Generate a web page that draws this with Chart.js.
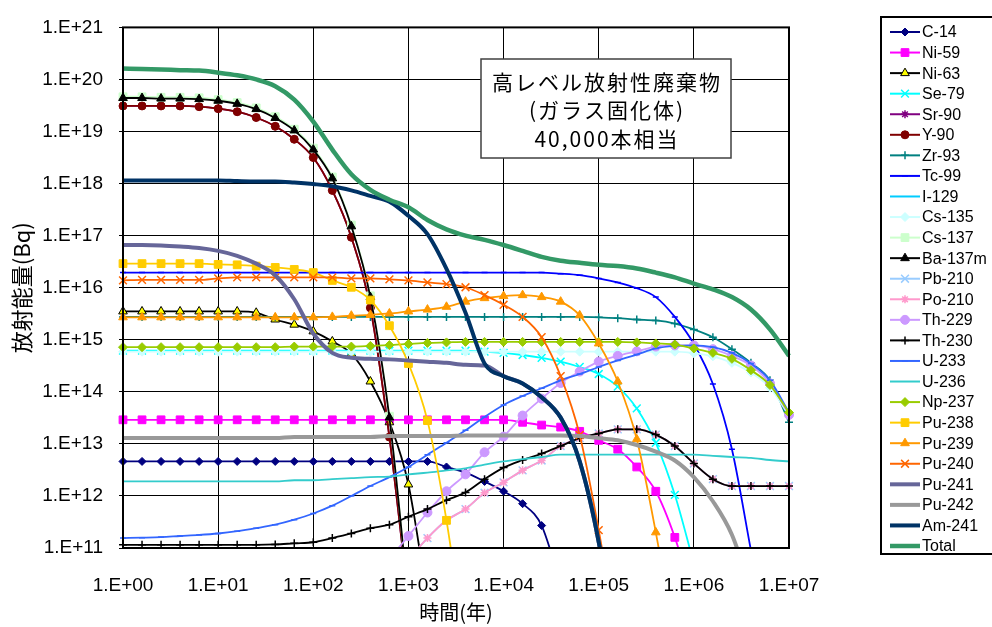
<!DOCTYPE html>
<html>
<head>
<meta charset="utf-8">
<script src="https://cdn.jsdelivr.net/npm/chart.js@4/dist/chart.umd.min.js"></script>
<style>
  html, body { margin: 0; padding: 0; background: #fff; }
  canvas { display: block; }
</style>
</head>
<body>
<canvas id="chart" width="992" height="627"></canvas>
<script>
// time grid (years), 5 points per decade
const years = [
  1, 1.585, 2.512, 3.981, 6.31,
  10, 15.85, 25.12, 39.81, 63.1,
  100, 158.5, 251.2, 398.1, 631,
  1000, 1585, 2512, 3981, 6310,
  1e4, 15850, 25120, 39810, 63100,
  1e5, 158500, 251200, 398100, 631000,
  1e6, 1585000, 2512000, 3981000, 6310000,
  1e7
];

const xTicks = [1, 10, 100, 1e3, 1e4, 1e5, 1e6, 1e7];
const xTickLabels = ['1.E+00', '1.E+01', '1.E+02', '1.E+03', '1.E+04', '1.E+05', '1.E+06', '1.E+07'];
const yTicks = [1e11, 1e12, 1e13, 1e14, 1e15, 1e16, 1e17, 1e18, 1e19, 1e20, 1e21];
const yTickLabels = ['1.E+11', '1.E+12', '1.E+13', '1.E+14', '1.E+15', '1.E+16', '1.E+17', '1.E+18', '1.E+19', '1.E+20', '1.E+21'];

const noteLines = ['高レベル放射性廃棄物', '(ガラス固化体)', '40,000本相当'];

const names = ['C-14', 'Ni-59', 'Ni-63', 'Se-79', 'Sr-90', 'Y-90', 'Zr-93', 'Tc-99', 'I-129',
  'Cs-135', 'Cs-137', 'Ba-137m', 'Pb-210', 'Po-210', 'Th-229', 'Th-230', 'U-233', 'U-236',
  'Np-237', 'Pu-238', 'Pu-239', 'Pu-240', 'Pu-241', 'Pu-242', 'Am-241', 'Total'];

// activity (Bq), one row per decade
const c14 = [
  4.6e12, 4.6e12, 4.6e12, 4.6e12, 4.6e12,
  4.6e12, 4.6e12, 4.6e12, 4.6e12, 4.6e12,
  4.6e12, 4.6e12, 4.6e12, 4.6e12, 4.6e12,
  4.6e12, 4.6e12, 3.6e12, 2.8e12, 1.9e12,
  1.23e12, 7.1e11, 2.7e11, 2e10, null,
  null, null, null, null, null,
  null, null, null, null, null,
  null
];
const ni59 = [
  2.9e13, 2.9e13, 2.9e13, 2.9e13, 2.9e13,
  2.9e13, 2.9e13, 2.9e13, 2.9e13, 2.9e13,
  2.9e13, 2.9e13, 2.9e13, 2.9e13, 2.9e13,
  2.9e13, 2.9e13, 2.9e13, 2.9e13, 2.9e13,
  2.9e13, 2.6e13, 2.3e13, 2.1e13, 1.74e13,
  1.17e13, 7.9e12, 3.6e12, 1.23e12, 1.6e11,
  1e10, null, null, null, null,
  null
];
const ni63 = [
  3.5e15, 3.5e15, 3.5e15, 3.5e15, 3.5e15,
  3.5e15, 3.5e15, 3.3e15, 2.45e15, 1.95e15,
  1.45e15, 9.3e14, 5.4e14, 1.58e14, 2.6e13,
  1.66e12, 1e10, null, null, null,
  null, null, null, null, null,
  null, null, null, null, null,
  null, null, null, null, null,
  null
];
const se79 = [
  6.2e14, 6.2e14, 6.2e14, 6.2e14, 6.2e14,
  6.2e14, 6.2e14, 6.2e14, 6.2e14, 6.2e14,
  6.2e14, 6.2e14, 6.2e14, 6.2e14, 6.2e14,
  6.2e14, 6.2e14, 6.2e14, 6.2e14, 5.9e14,
  5.6e14, 5.1e14, 4.5e14, 3.8e14, 3.0e14,
  2.2e14, 1.26e14, 4.8e13, 1.05e13, 1.05e12,
  5e10, null, null, null, null,
  null
];
const sr90 = [
  3.1e19, 3.1e19, 3.1e19, 3.1e19, 3.0e19,
  2.75e19, 2.4e19, 1.86e19, 1.26e19, 7.1e18,
  3.16e18, 7.4e17, 9.3e16, 4.1e15, 1.35e13,
  1e10, null, null, null, null,
  null, null, null, null, null,
  null, null, null, null, null,
  null, null, null, null, null,
  null
];
const y90 = [
  3.1e19, 3.1e19, 3.1e19, 3.1e19, 3.0e19,
  2.75e19, 2.4e19, 1.86e19, 1.26e19, 7.1e18,
  3.16e18, 7.4e17, 9.3e16, 4.1e15, 1.35e13,
  1e10, null, null, null, null,
  null, null, null, null, null,
  null, null, null, null, null,
  null, null, null, null, null,
  null
];
const zr93 = [
  2.75e15, 2.75e15, 2.75e15, 2.75e15, 2.75e15,
  2.75e15, 2.75e15, 2.75e15, 2.75e15, 2.75e15,
  2.75e15, 2.75e15, 2.75e15, 2.75e15, 2.75e15,
  2.75e15, 2.75e15, 2.75e15, 2.75e15, 2.75e15,
  2.75e15, 2.75e15, 2.75e15, 2.75e15, 2.75e15,
  2.7e15, 2.6e15, 2.45e15, 2.35e15, 2.05e15,
  1.58e15, 1.12e15, 6.6e14, 3.6e14, 1.66e14,
  2.6e13
];
const tc99 = [
  1.95e16, 1.95e16, 1.95e16, 1.95e16, 1.95e16,
  1.95e16, 1.95e16, 1.95e16, 1.95e16, 1.95e16,
  1.95e16, 1.95e16, 1.95e16, 1.95e16, 1.95e16,
  1.95e16, 1.95e16, 1.95e16, 1.95e16, 1.95e16,
  1.95e16, 1.95e16, 1.95e16, 1.86e16, 1.74e16,
  1.51e16, 1.26e16, 9.8e15, 6.6e15, 2.75e15,
  8.3e14, 1.41e14, 7.9e12, 9e10, null,
  null
];
const i129 = []; // stays below 1.E+11, nothing visible
const cs135 = [
  5.9e14, 5.9e14, 5.9e14, 5.9e14, 5.9e14,
  5.9e14, 5.9e14, 5.9e14, 5.9e14, 5.9e14,
  5.9e14, 5.9e14, 5.9e14, 5.9e14, 5.9e14,
  5.9e14, 5.9e14, 5.9e14, 5.9e14, 5.9e14,
  5.9e14, 5.9e14, 5.9e14, 5.9e14, 5.9e14,
  5.9e14, 5.9e14, 5.9e14, 5.9e14, 5.9e14,
  5.5e14, 4.8e14, 3.6e14, 2.34e14, 1.2e14,
  3.5e13
];
const cs137 = [
  4.65e19, 4.65e19, 4.55e19, 4.55e19, 4.45e19,
  4.1e19, 3.6e19, 2.85e19, 1.93e19, 1.11e19,
  4.8e18, 1.34e18, 1.6e17, 7.0e15, 3.4e13,
  1e10, null, null, null, null,
  null, null, null, null, null,
  null, null, null, null, null,
  null, null, null, null, null,
  null
];
const ba137m = [
  4.4e19, 4.4e19, 4.3e19, 4.3e19, 4.2e19,
  3.9e19, 3.4e19, 2.7e19, 1.82e19, 1.05e19,
  4.5e18, 1.26e18, 1.51e17, 6.6e15, 3.2e13,
  1e10, null, null, null, null,
  null, null, null, null, null,
  null, null, null, null, null,
  null, null, null, null, null,
  null
];
const pb210 = [
  null, null, null, null, null,
  null, null, null, null, null,
  null, null, null, null, null,
  6e10, 1.55e11, 3.4e11, 5.6e11, 1.15e12,
  1.82e12, 3.1e12, 4.8e12, 9.1e12, 1.29e13,
  1.58e13, 1.9e13, 1.9e13, 1.51e13, 9.1e12,
  4.2e12, 2.1e12, 1.55e12, 1.55e12, 1.55e12,
  1.55e12
];
const po210 = [
  null, null, null, null, null,
  null, null, null, null, null,
  null, null, null, null, null,
  6e10, 1.55e11, 3.4e11, 5.6e11, 1.15e12,
  1.82e12, 3.1e12, 4.8e12, 9.1e12, 1.29e13,
  1.58e13, 1.9e13, 1.9e13, 1.51e13, 9.1e12,
  4.2e12, 2.1e12, 1.55e12, 1.55e12, 1.55e12,
  1.55e12
];
const th229 = [
  null, null, null, null, null,
  null, null, null, null, null,
  null, null, null, null, 6.2e10,
  1.7e11, 4.8e11, 1.23e12, 2.6e12, 6.9e12,
  1.38e13, 3.5e13, 7.4e13, 1.48e14, 2.45e14,
  3.8e14, 4.9e14, 6.0e14, 7.4e14, 7.8e14,
  7.8e14, 6.6e14, 4.9e14, 3.2e14, 1.45e14,
  3.6e13
];
const th230 = [
  1.15e11, 1.15e11, 1.15e11, 1.15e11, 1.15e11,
  1.15e11, 1.15e11, 1.15e11, 1.17e11, 1.23e11,
  1.29e11, 1.55e11, 1.9e11, 2.4e11, 2.8e11,
  4.0e11, 5.6e11, 8.3e11, 1.17e12, 2.1e12,
  3.5e12, 4.9e12, 6.5e12, 9.1e12, 1.29e13,
  1.58e13, 1.9e13, 1.9e13, 1.51e13, 9.1e12,
  4.2e12, 2.1e12, 1.55e12, 1.55e12, 1.55e12,
  1.55e12
];
const u233 = [
  1.55e11, 1.58e11, 1.62e11, 1.7e11, 1.78e11,
  1.9e11, 2.1e11, 2.4e11, 2.8e11, 3.5e11,
  4.6e11, 6.5e11, 1.0e12, 1.55e12, 2.3e12,
  3.6e12, 6.2e12, 1.05e13, 1.82e13, 3.3e13,
  5.6e13, 8.3e13, 1.17e14, 1.66e14, 2.2e14,
  3.0e14, 4.0e14, 5.2e14, 6.8e14, 7.6e14,
  7.8e14, 7.2e14, 5.6e14, 3.5e14, 1.66e14,
  4.0e13
];
const u236 = [
  1.9e12, 1.9e12, 1.9e12, 1.9e12, 1.9e12,
  1.9e12, 1.9e12, 1.9e12, 1.9e12, 2.0e12,
  2.0e12, 2.1e12, 2.2e12, 2.3e12, 2.35e12,
  2.6e12, 2.8e12, 3.1e12, 3.4e12, 4.0e12,
  4.6e12, 5.1e12, 5.6e12, 6.2e12, 6.2e12,
  6.2e12, 6.2e12, 6.2e12, 6.2e12, 6.2e12,
  6.2e12, 5.9e12, 5.6e12, 5.4e12, 4.9e12,
  4.6e12
];
const np237 = [
  7.2e14, 7.2e14, 7.2e14, 7.2e14, 7.2e14,
  7.2e14, 7.2e14, 7.2e14, 7.2e14, 7.4e14,
  7.4e14, 7.4e14, 7.4e14, 7.6e14, 7.9e14,
  8.3e14, 8.7e14, 8.9e14, 9.1e14, 9.1e14,
  9.1e14, 9.1e14, 9.1e14, 9.1e14, 9.1e14,
  9.1e14, 9.1e14, 8.9e14, 8.5e14, 8.1e14,
  6.8e14, 5.6e14, 4.3e14, 2.6e14, 1.35e14,
  4.0e13
];
const pu238 = [
  2.9e16, 2.9e16, 2.9e16, 2.9e16, 2.9e16,
  2.8e16, 2.75e16, 2.6e16, 2.45e16, 2.24e16,
  1.95e16, 1.38e16, 1.02e16, 5.8e15, 1.86e15,
  3.5e14, 2.8e13, 3.4e11, 1e9, null,
  null, null, null, null, null,
  null, null, null, null, null,
  null, null, null, null, null,
  null
];
const pu239 = [
  2.7e15, 2.7e15, 2.7e15, 2.7e15, 2.7e15,
  2.7e15, 2.7e15, 2.7e15, 2.7e15, 2.7e15,
  2.7e15, 2.75e15, 2.9e15, 3.0e15, 3.2e15,
  3.5e15, 3.8e15, 4.3e15, 5.4e15, 6.3e15,
  6.9e15, 7.2e15, 6.6e15, 5.4e15, 2.95e15,
  8.5e14, 1.58e14, 1.23e13, 2.0e11, 1.6e9,
  null, null, null, null, null,
  null
];
const pu240 = [
  1.38e16, 1.41e16, 1.41e16, 1.41e16, 1.41e16,
  1.51e16, 1.58e16, 1.58e16, 1.58e16, 1.58e16,
  1.58e16, 1.58e16, 1.51e16, 1.51e16, 1.45e16,
  1.38e16, 1.26e16, 1.17e16, 1.02e16, 7.2e15,
  4.7e15, 2.75e15, 1.12e15, 2.0e14, 1.48e13,
  2.2e11, 1.6e9, null, null, null,
  null, null, null, null, null,
  null
];
const pu241 = [
  6.6e16, 6.6e16, 6.5e16, 6.2e16, 5.8e16,
  5.1e16, 4.1e16, 2.9e16, 1.74e16, 6.0e15,
  1.32e15, 5.6e14, 4.5e14, 4.3e14, 4.2e14,
  4.0e14, 3.8e14, 3.6e14, 3.3e14, 3.2e14,
  2.0e14, 1.45e14, 7.9e13, 3.2e13, 4.6e12,
  1.3e11, 7e8, null, null, null,
  null, null, null, null, null,
  null
];
const pu242 = [
  1.29e13, 1.29e13, 1.29e13, 1.29e13, 1.29e13,
  1.29e13, 1.29e13, 1.29e13, 1.29e13, 1.35e13,
  1.35e13, 1.35e13, 1.35e13, 1.35e13, 1.41e13,
  1.41e13, 1.41e13, 1.41e13, 1.45e13, 1.45e13,
  1.45e13, 1.45e13, 1.45e13, 1.45e13, 1.41e13,
  1.29e13, 1.17e13, 9.5e12, 7.1e12, 4.8e12,
  2.3e12, 7.9e11, 1.8e11, 1.6e10, null,
  null
];
const am241 = [
  1.15e18, 1.15e18, 1.15e18, 1.15e18, 1.15e18,
  1.15e18, 1.12e18, 1.1e18, 1.1e18, 1.05e18,
  9.8e17, 8.9e17, 7.4e17, 5.8e17, 4.5e17,
  2.4e17, 1.07e17, 2.3e16, 3.3e15, 3.5e14,
  2.0e14, 1.45e14, 7.9e13, 3.2e13, 4.6e12,
  1.3e11, 7e8, null, null, null,
  null, null, null, null, null,
  null
];
const total = [
  1.62e20, 1.58e20, 1.55e20, 1.51e20, 1.48e20,
  1.35e20, 1.2e20, 1.0e20, 7.4e19, 4.1e19,
  1.55e19, 4.5e18, 1.51e18, 7.6e17, 4.9e17,
  3.5e17, 2.0e17, 1.32e17, 1.0e17, 8.3e16,
  6.6e16, 5.1e16, 3.9e16, 3.3e16, 3.0e16,
  2.75e16, 2.6e16, 2.34e16, 1.95e16, 1.58e16,
  1.2e16, 9.3e15, 6.6e15, 3.8e15, 1.58e15,
  4.9e14
];

const seriesValues = [c14, ni59, ni63, se79, sr90, y90, zr93, tc99, i129, cs135, cs137, ba137m,
  pb210, po210, th229, th230, u233, u236, np237, pu238, pu239, pu240, pu241, pu242, am241, total];

// line colour, marker, marker fill, line width
const styles = [
  { color: '#000080', marker: 'rectRot', r: 4 },
  { color: '#FF00FF', marker: 'rect', r: 5.5 },
  { color: '#000000', marker: 'triangle', r: 5, fill: '#FFFF00' },
  { color: '#00FFFF', marker: 'crossRot', r: 5.5 },
  { color: '#800080', marker: 'star', r: 4 },
  { color: '#800000', marker: 'circle', r: 4 },
  { color: '#008080', marker: 'cross', r: 4 },
  { color: '#0000FF', marker: 'line', r: 3 },
  { color: '#00CCFF', marker: false },
  { color: '#CCFFFF', marker: 'rectRot', r: 4.5 },
  { color: '#CCFFCC', marker: 'rect', r: 5.5 },
  { color: '#000000', marker: 'triangle', r: 5 },
  { color: '#99CCFF', marker: 'crossRot', r: 5.5 },
  { color: '#FF99CC', marker: 'star', r: 4 },
  { color: '#CC99FF', marker: 'circle', r: 4.5 },
  { color: '#000000', marker: 'cross', r: 4 },
  { color: '#3366FF', marker: 'line', r: 3 },
  { color: '#33CCCC', marker: false },
  { color: '#99CC00', marker: 'rectRot', r: 4.5 },
  { color: '#FFCC00', marker: 'rect', r: 5.5 },
  { color: '#FF9900', marker: 'triangle', r: 5 },
  { color: '#FF6600', marker: 'crossRot', r: 5.5 },
  { color: '#666699', marker: false, width: 4 },
  { color: '#999999', marker: false, width: 4 },
  { color: '#003366', marker: false, width: 4 },
  { color: '#339966', marker: false, width: 4.5 }
];

const strokeMarkers = ['cross', 'crossRot', 'star', 'line'];

const datasets = names.map((name, i) => {
  const st = styles[i];
  const stroked = strokeMarkers.includes(st.marker);
  return {
    label: name,
    data: seriesValues[i].map((v, k) => ({ x: years[k], y: v })),
    borderColor: st.color,
    backgroundColor: st.color,
    borderWidth: st.width || 1.8,
    pointStyle: st.marker || 'circle',
    pointRadius: st.marker ? st.r : 0,
    pointBackgroundColor: st.fill || st.color,
    pointBorderColor: st.color,
    pointBorderWidth: stroked ? 1.5 : 1,
    spanGaps: false,
    order: names.length - i, // later series on top, like the original
    clip: { left: 6, right: 6, top: 2, bottom: 0 }
  };
});

const cjk = '"Noto Sans CJK JP", "Noto Sans CJK SC", sans-serif';

//plot frame
const frame = {
  id: 'frame',
  afterDatasetsDraw(chart) {
    const { ctx, chartArea: a } = chart;
    ctx.save();
    ctx.strokeStyle = '#000';
    ctx.lineWidth = 2;
    ctx.strokeRect(a.left, a.top, a.right - a.left, a.bottom - a.top);
    ctx.restore();
  }
};

//text box inside the plot
const noteBox = {
  id: 'noteBox',
  afterDraw(chart) {
    const ctx = chart.ctx;
    ctx.save();
    ctx.fillStyle = '#fff';
    ctx.fillRect(481, 59, 250, 99);
    ctx.strokeStyle = '#404040';
    ctx.lineWidth = 1.5;
    ctx.strokeRect(481, 59, 250, 99);
    ctx.fillStyle = '#000';
    ctx.font = '21px ' + cjk;
    ctx.textAlign = 'center';
    ctx.textBaseline = 'middle';
    ctx.letterSpacing = '2px';
    noteLines.forEach((t, i) => ctx.fillText(t, 607, 82 + i * 28.5));
    ctx.restore();
  }
};

//boxed legend on the right, line + marker per series
const legendBox = {
  id: 'legendBox',
  afterDraw(chart) {
    const ctx = chart.ctx;
    ctx.save();
    ctx.strokeStyle = '#000';
    ctx.lineWidth = 2;
    ctx.strokeRect(881, 17, 130, 537);
    chart.data.datasets.forEach((ds, i) => {
      const y = 32 + i * 20.56;
      ctx.strokeStyle = ds.borderColor;
      ctx.lineWidth = ds.borderWidth < 2 ? 2 : ds.borderWidth;
      ctx.beginPath();
      ctx.moveTo(890, y);
      ctx.lineTo(920, y);
      ctx.stroke();
      if (ds.pointRadius > 0) {
        ctx.fillStyle = ds.pointBackgroundColor;
        ctx.strokeStyle = ds.pointBorderColor;
        ctx.lineWidth = ds.pointBorderWidth;
        Chart.helpers.drawPoint(ctx, {
          pointStyle: ds.pointStyle, radius: ds.pointRadius, rotation: 0, borderWidth: ds.pointBorderWidth
        }, 905, y);
      }
      ctx.fillStyle = '#000';
      ctx.font = '16px "Liberation Sans", Arial, sans-serif';
      ctx.textAlign = 'left';
      ctx.textBaseline = 'middle';
      ctx.fillText(ds.label, 922, y + 1);
    });
    ctx.restore();
  }
};

Chart.defaults.font.family = '"Liberation Sans", Arial, sans-serif';
Chart.defaults.color = '#000';

new Chart(document.getElementById('chart'), {
  type: 'line',
  data: { datasets },
  options: {
    responsive: false,
    animation: false,
    devicePixelRatio: 1,
    layout: { padding: { top: 17, right: 203, left: 0, bottom: 0 } },
    plugins: {
      legend: { display: false },
      tooltip: { enabled: false }
    },
    elements: { line: { cubicInterpolationMode: 'monotone' } },
    scales: {
      x: {
        type: 'logarithmic',
        min: 1,
        max: 1e7,
        afterBuildTicks: (s) => { s.ticks = xTicks.map(v => ({ value: v })); },
        afterFit: (s) => { s.height = 79; },
        ticks: {
          callback: (v, i) => xTickLabels[i],
          font: { size: 19 },
          color: '#000',
          padding: 26,
          maxRotation: 0,
          autoSkip: false
        },
        grid: { color: '#000', lineWidth: 1, drawTicks: false },
        border: { display: false },
        title: {
          display: true,
          text: '時間(年)',
          font: { family: cjk, size: 20 },
          color: '#000',
          padding: { top: 0, bottom: 3 }
        }
      },
      y: {
        type: 'logarithmic',
        min: 1e11,
        max: 1e21,
        afterBuildTicks: (s) => { s.ticks = yTicks.map(v => ({ value: v })); },
        afterFit: (s) => { s.width = 123; },
        ticks: {
          callback: (v, i) => yTickLabels[i],
          font: { size: 19 },
          color: '#000',
          padding: 16,
          autoSkip: false
        },
        grid: { color: '#000', lineWidth: 1, tickLength: 4 },
        border: { display: false },
        title: {
          display: true,
          text: '放射能量(Bq)',
          font: { family: cjk, size: 22 },
          color: '#000',
          padding: { top: 8, bottom: 0 }
        }
      }
    }
  },
  plugins: [frame, noteBox, legendBox]
});
</script>
</body>
</html>
